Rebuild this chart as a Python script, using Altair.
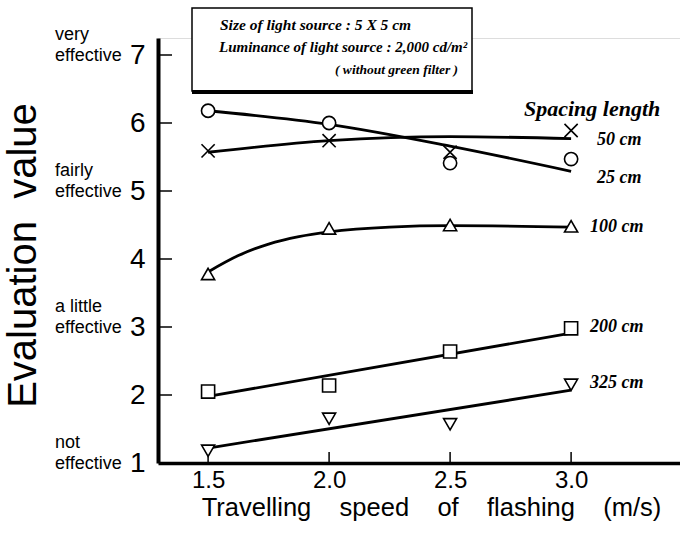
import altair as alt
import pandas as pd

# ---------------- data ----------------
speed = [1.5, 2.0, 2.5, 3.0]
series_names = ["25 cm", "50 cm", "100 cm", "200 cm", "325 cm"]

obs_25 = [6.18, 6.00, 5.41, 5.47]
obs_50 = [5.59, 5.74, 5.57, 5.89]
obs_100 = [3.78, 4.45, 4.50, 4.48]
obs_200 = [2.05, 2.14, 2.64, 2.98]
obs_325 = [1.18, 1.65, 1.57, 2.15]

# fitted curves (as drawn in the figure)
fit_x_25 = [1.5, 2.0, 2.5, 3.0]
fit_y_25 = [6.18, 5.98, 5.66, 5.29]
fit_x_50 = [1.5, 2.0, 2.5, 3.0]
fit_y_50 = [5.57, 5.74, 5.80, 5.77]
fit_x_100 = [1.5, 1.625, 1.75, 1.875, 2.0, 2.25, 2.5, 3.0]
fit_y_100 = [3.81, 4.05, 4.22, 4.33, 4.40, 4.47, 4.49, 4.47]
fit_x_200 = [1.5, 3.0]
fit_y_200 = [1.98, 2.91]
fit_x_325 = [1.5, 3.0]
fit_y_325 = [1.22, 2.07]

x_ticks = [1.5, 2.0, 2.5, 3.0]
y_ticks = [1, 2, 3, 4, 5, 6, 7]
level_values = [7, 5, 3, 1]
level_line1 = ["very", "fairly", "a little", "not"]
level_line2 = ["effective", "effective", "effective", "effective"]

# ---------------- tables ----------------
obs_rows = []
for name, vals in zip(series_names, [obs_25, obs_50, obs_100, obs_200, obs_325]):
    for s, v in zip(speed, vals):
        obs_rows.append({"series": name, "speed": s, "value": v})
obs_df = pd.DataFrame(obs_rows)

fit_rows = []
for name, xs_, ys_ in zip(series_names,
                          [fit_x_25, fit_x_50, fit_x_100, fit_x_200, fit_x_325],
                          [fit_y_25, fit_y_50, fit_y_100, fit_y_200, fit_y_325]):
    for s, v in zip(xs_, ys_):
        fit_rows.append({"series": name, "speed": s, "value": v})
fit_df = pd.DataFrame(fit_rows)

levels_df = pd.DataFrame({"value": level_values, "l1": level_line1, "l2": level_line2})
xt_df = pd.DataFrame({"speed": x_ticks})
yt_df = pd.DataFrame({"value": y_ticks[1:]})

W, H = 522, 425
SANS = "Liberation Sans"
SERIF = "Liberation Serif"
GAP = "\u00a0\u00a0\u00a0\u00a0"

xs = alt.Scale(domain=[1.293, 3.45], nice=False, zero=False)
ys = alt.Scale(domain=[1, 7.25], nice=False, zero=False)

x_enc = alt.X("speed:Q", scale=xs, axis=alt.Axis(
    values=x_ticks, format=".1f", grid=False, ticks=False,
    domainColor="black", domainWidth=3.5,
    labelFont=SANS, labelFontSize=24, labelColor="black", labelPadding=5,
    title=GAP.join(["Travelling", "speed", "of", "flashing", "(m/s)"]),
    titleFont=SANS, titleFontSize=25.5, titleFontWeight="normal", titleColor="black",
    titleX=273, titleY=52, titleBaseline="alphabetic", titleAlign="center"))
y_enc = alt.Y("value:Q", scale=ys, axis=alt.Axis(
    values=y_ticks, format="d", grid=False, ticks=False,
    domainColor="black", domainWidth=4,
    labelFont=SANS, labelFontSize=28, labelColor="black", labelPadding=13,
    title="Evaluation\u00a0\u00a0value",
    titleFont=SANS, titleFontSize=40, titleFontWeight="normal", titleColor="black",
    titleX=-123, titleY=217, titleBaseline="alphabetic", titleAlign="center", titleAngle=270))

cross_path = "M-1,-1L1,1M-1,1L1,-1"

lines = alt.Chart(fit_df).mark_line(color="black", strokeWidth=2.8, interpolate="monotone").encode(
    x=x_enc, y=y_enc, detail="series:N")

points = alt.Chart(obs_df).mark_point(filled=True, fill="white", stroke="black",
                                      strokeWidth=1.6, opacity=1, fillOpacity=1).encode(
    x=alt.X("speed:Q", scale=xs),
    y=alt.Y("value:Q", scale=ys),
    shape=alt.Shape("series:N", scale=alt.Scale(domain=series_names,
                    range=["circle", cross_path, "triangle-up", "square", "triangle-down"]), legend=None),
    size=alt.Size("series:N", scale=alt.Scale(domain=series_names,
                  range=[175, 170, 360, 175, 400]), legend=None),
)

xticks = alt.Chart(xt_df).mark_rule(color="black", strokeWidth=1.5).encode(
    x=alt.X("speed:Q", scale=xs), y=alt.value(H), y2=alt.value(H - 11))
yticks = alt.Chart(yt_df).mark_rule(color="black", strokeWidth=1.5).encode(
    y=alt.Y("value:Q", scale=ys), x=alt.value(0), x2=alt.value(14))

lvl1 = alt.Chart(levels_df).mark_text(font=SANS, fontSize=18, align="left", baseline="alphabetic",
                                      dy=-15, color="black").encode(
    y=alt.Y("value:Q", scale=ys), x=alt.value(-103), text="l1:N")
lvl2 = alt.Chart(levels_df).mark_text(font=SANS, fontSize=18, align="left", baseline="alphabetic",
                                      dy=6, color="black").encode(
    y=alt.Y("value:Q", scale=ys), x=alt.value(-103), text="l2:N")

one = alt.Data(values=[{"a": 1}])
box = alt.Chart(one).mark_rect(fill="white", stroke="black", strokeWidth=1.5).encode(
    x=alt.value(34), x2=alt.value(314), y=alt.value(-30), y2=alt.value(53))
box_shadow = alt.Chart(one).mark_rule(color="black", strokeWidth=4).encode(
    x=alt.value(34), x2=alt.value(315), y=alt.value(54))


def note(txt, x, y, size=15, align="left"):
    return alt.Chart(one).mark_text(text=txt, font=SERIF, fontStyle="italic", fontWeight="bold",
                                    fontSize=size, align=align, baseline="middle", color="black").encode(
        x=alt.value(x), y=alt.value(y))


notes = [
    note("Size of light source : 5 X 5 cm", 62, -13, size=15.5),
    note("Luminance of light source : 2,000 cd/m\u00b2", 61, 9),
    note("( without  green filter )", 177, 32, size=13.5),
    note("Spacing length", 366, 71, size=22),
    note("50 cm", 439, 102, size=18),
    note("25 cm", 439, 140, size=18),
    note("100 cm", 432, 189, size=18),
    note("200 cm", 432, 289, size=18),
    note("325 cm", 432, 345, size=18),
]

chart = alt.layer(lines, xticks, yticks, points, lvl1, lvl2, box, box_shadow, *notes).properties(
    width=W, height=H,
    autosize=alt.AutoSizeParams(type="none"),
    padding={"left": 158, "top": 38, "right": 0, "bottom": 70},
).configure_view(stroke=None).configure(background="white")

chart.save("out.html", embed_options={"renderer": "svg", "actions": False})
